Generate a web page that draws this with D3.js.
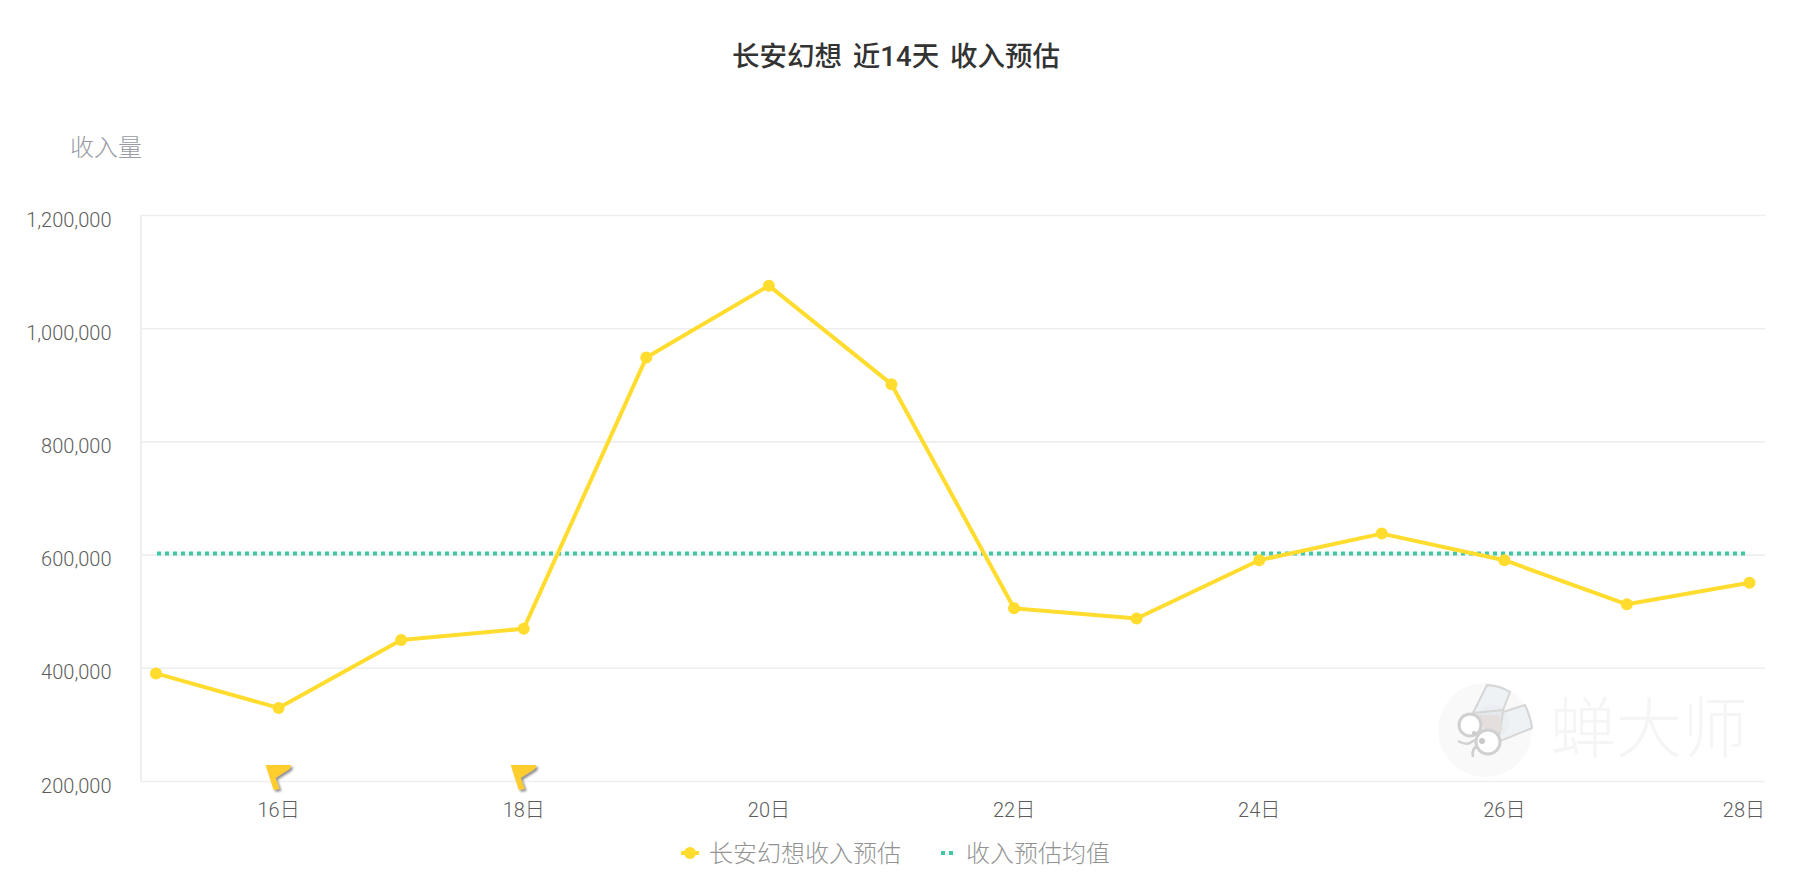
<!DOCTYPE html>
<html><head><meta charset="utf-8">
<script src="https://cdn.jsdelivr.net/npm/d3@7/dist/d3.min.js"></script>
<style>html,body{margin:0;padding:0;background:#fff}svg{display:block}text{font-family:Roboto,"Noto Sans CJK SC",sans-serif}</style>
</head><body><svg id="c" width="1802" height="896"></svg>
<script>
const days=[15,16,17,18,19,20,21,22,23,24,25,26,27,28];
const revenue=[391000,330000,450000,470000,949000,1076000,902000,506000,488000,591000,638000,591000,513000,551000];
const meanValue=[603000];
const yTicks=[200000,400000,600000,800000,1000000,1200000];
const xTicks=[16,18,20,22,24,26,28];
const flagDays=[16,18];
const titleText="长安幻想 近14天 收入预估";
const yName="收入量";
const legendNames=["长安幻想收入预估","收入预估均值"];
const svg=d3.select("#c");
const x=d3.scaleLinear().domain([15,28]).range([156,1749.5]);
const y=d3.scaleLinear().domain([200000,1200000]).range([781.5,215.5]);
const L=141,R=1765,YEL="#ffdc2e",TEAL="#3fc8a4";
const defs=svg.append("defs");
const f=defs.append("filter").attr("id","fs").attr("x","-30%").attr("y","-30%").attr("width","170%").attr("height","170%");
f.append("feDropShadow").attr("dx",2).attr("dy",2).attr("stdDeviation",1).attr("flood-color","#777").attr("flood-opacity",.8);
// watermark
const wm=svg.append("g").attr("transform","translate(1485,730)").attr("opacity",.85);
wm.append("circle").attr("r",47).attr("fill","#f9f9f9");
wm.append("circle").attr("cx",7).attr("cy",-8).attr("r",17).attr("fill","#dfe6e9");
wm.append("path").attr("d","M-12,-17 L2,-45 Q16,-44 25,-38 L18,-20 Z").attr("fill","#e8eef1").attr("fill-opacity",.8).attr("stroke","#cfcfcf").attr("stroke-width",2);
wm.append("path").attr("d","M18,-18 L40,-25 Q46,-12 47,-2 L13,12 Z").attr("fill","#e8eef1").attr("fill-opacity",.8).attr("stroke","#cfcfcf").attr("stroke-width",2);
wm.append("path").attr("d","M-8,-15 L14,-15 L18,0 L4,6 Z").attr("fill","#e0d9d8");
wm.append("path").attr("d","M-27,11 Q-20,15 -15,13 M-15,13 Q-8,8 -6,10 M-12,27 Q-14,18 -6,15").attr("fill","none").attr("stroke","#c8c8c8").attr("stroke-width",2.5);
wm.append("circle").attr("cx",-15).attr("cy",-5).attr("r",11).attr("fill","#fff").attr("stroke","#c8c8c8").attr("stroke-width",3);
wm.append("circle").attr("cx",3).attr("cy",12).attr("r",12).attr("fill","#fff").attr("stroke","#c8c8c8").attr("stroke-width",3);
wm.append("circle").attr("cx",-11).attr("cy",3).attr("r",2).attr("fill","#c0c0c0");
wm.append("circle").attr("cx",-3).attr("cy",11).attr("r",3).attr("fill","#c0c0c0");
wm.append("text").attr("x",65).attr("y",22).attr("font-size",66).attr("font-weight",300).attr("fill","#f4f4f4").text("蝉大师");
// grid
const g=svg.append("g");
g.selectAll(".gl").data(yTicks).join("line").attr("x1",L).attr("x2",R).attr("y1",d=>y(d)).attr("y2",d=>y(d)).attr("stroke","#eeeeee").attr("stroke-width",1.6);
g.append("line").attr("x1",L).attr("x2",L).attr("y1",y(1200000)).attr("y2",y(200000)).attr("stroke","#eeeeee").attr("stroke-width",2);
g.selectAll(".yt").data(yTicks).join("text").attr("x",111.5).attr("y",d=>y(d)+11).attr("text-anchor","end").attr("font-size",20).attr("font-weight",300).attr("fill","#5c5c5c").text(d=>d3.format(",")(d));
g.selectAll(".xt").data(xTicks).join("text").attr("x",d=>d===28?R:x(d)).attr("y",817).attr("text-anchor",d=>d===28?"end":"middle").attr("font-size",20).attr("font-weight",300).attr("fill","#5c5c5c").text(d=>d+"日");
// mean
svg.selectAll(".mean").data(meanValue).join("line").attr("x1",x(15)+1).attr("x2",x(28)-3).attr("y1",d=>y(d)).attr("y2",d=>y(d)).attr("stroke",TEAL).attr("stroke-width",4).attr("stroke-dasharray","4 4");
// line
const line=d3.line().x((d,i)=>x(days[i])).y(d=>y(d));
svg.append("path").attr("d",line(revenue)).attr("fill","none").attr("stroke",YEL).attr("stroke-width",4).attr("stroke-linejoin","round");
svg.selectAll(".pt").data(revenue).join("circle").attr("cx",(d,i)=>x(days[i])).attr("cy",d=>y(d)).attr("r",6).attr("fill",YEL);
// flags
svg.selectAll(".flag").data(flagDays).join("path").attr("transform",d=>`translate(${x(d)-13},765)`).attr("d","M0,0 L26,0 L24,4 L10,13 L14,24 L8,25 Z").attr("fill","#ffcd2e").attr("filter","url(#fs)");
// titles
svg.append("text").attr("x",896).attr("y",66).attr("text-anchor","middle").attr("font-size",27.5).attr("font-weight",500).attr("word-spacing",4).attr("fill","#333").text(titleText);
svg.append("text").attr("x",70).attr("y",156).attr("font-size",24).attr("font-weight",300).attr("fill","#989ba4").text(yName);
// legend
const lg=svg.append("g");
lg.append("line").attr("x1",681).attr("x2",699).attr("y1",853).attr("y2",853).attr("stroke",YEL).attr("stroke-width",4);
lg.append("circle").attr("cx",690).attr("cy",853).attr("r",6).attr("fill",YEL);
lg.append("text").attr("x",709).attr("y",862).attr("font-size",24).attr("font-weight",300).attr("fill","#929292").text(legendNames[0]);
lg.append("line").attr("x1",941).attr("x2",953).attr("y1",853).attr("y2",853).attr("stroke",TEAL).attr("stroke-width",4).attr("stroke-dasharray","4 4");
lg.append("text").attr("x",966).attr("y",862).attr("font-size",24).attr("font-weight",300).attr("fill","#929292").text(legendNames[1]);
</script></body></html>
